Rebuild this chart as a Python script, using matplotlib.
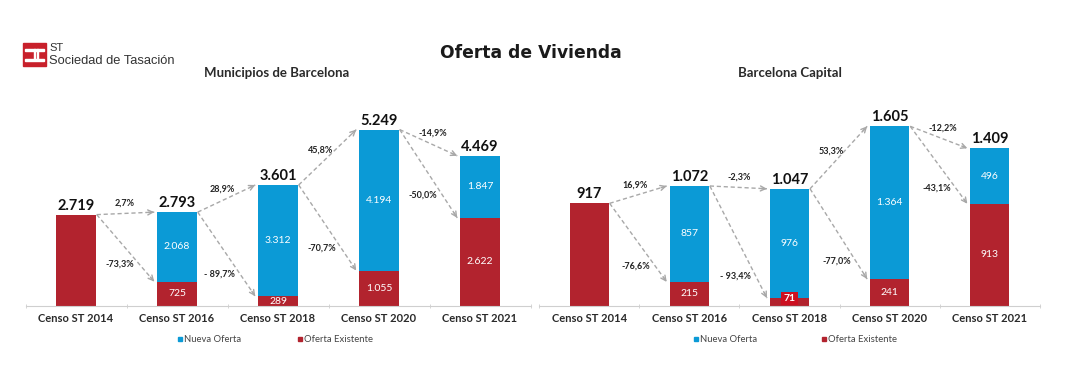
import numpy as np
import matplotlib
matplotlib.use("Agg")
import matplotlib.pyplot as plt
from matplotlib.patches import Rectangle

# ── Datos ────────────────────────────────────────────────────────────────
categorias = ["Censo ST 2014", "Censo ST 2016", "Censo ST 2018",
              "Censo ST 2020", "Censo ST 2021"]

mun_nueva = [0, 2068, 3312, 4194, 1847]
mun_existente = [2719, 725, 289, 1055, 2622]
mun_pct_total = ["2,7%", "28,9%", "45,8%", "-14,9%"]
mun_pct_exist = ["-73,3%", "- 89,7%", "-70,7%", "-50,0%"]

cap_nueva = [0, 857, 976, 1364, 496]
cap_existente = [917, 215, 71, 241, 913]
cap_pct_total = ["16,9%", "-2,3%", "53,3%", "-12,2%"]
cap_pct_exist = ["-76,6%", "- 93,4%", "-77,0%", "-43,1%"]

AZUL = "#0b9ad6"
ROJO = "#b2232e"
ROJO_CAJA = "#cc1020"
GRIS = "#a8a8a8"
TEXTO = "#222222"
W, H = 1077, 392
FONT = ["Lato", "DejaVu Sans"]


def miles(v):
    return f"{v:,}".replace(",", ".")


def fpos(x, y):
    # pixel (desde arriba-izquierda) -> fraccion de figura
    return x / W, 1 - y / H


def flecha(ax, p0, p1, etiqueta, modo, t=0.75):
    ax.plot([p0[0], p1[0]], [p0[1], p1[1]], color=GRIS, lw=1.0,
            ls=(0, (3, 2)), zorder=2)
    d0 = ax.transData.transform(p0)
    d1 = ax.transData.transform(p1)
    v = d1 - d0
    u = v / np.hypot(*v)
    back = ax.transData.inverted().transform(d1 - u * 6)
    ax.annotate("", xy=p1, xytext=back,
                arrowprops=dict(arrowstyle="->", color=GRIS, lw=1.0,
                                mutation_scale=9, shrinkA=0, shrinkB=0))
    if modo == "total":
        n = np.array([-u[1], u[0]])
        if n[1] < 0:
            n = -n
        pos = d0 + v * 0.5 + n * 10
        xy = ax.transData.inverted().transform(pos)
        ax.text(xy[0], xy[1], etiqueta, ha="center", va="center",
                fontsize=6.5, color=TEXTO, family=FONT, fontweight="bold")
    else:
        pos = d0 + v * t + np.array([-5, 0])
        xy = ax.transData.inverted().transform(pos)
        ax.text(xy[0], xy[1], etiqueta, ha="right", va="center",
                fontsize=6.5, color=TEXTO, family=FONT, fontweight="bold")


def panel(ax, nueva, existente, pct_total, pct_exist, ymax, caja=None, t=0.75):
    x = np.arange(len(categorias))
    w = 0.39
    nueva = np.array(nueva)
    existente = np.array(existente)
    total = nueva + existente
    ax.set_xlim(-0.5, len(categorias) - 0.5)
    ax.set_ylim(0, ymax)
    ax.bar(x, existente, w, color=ROJO, zorder=3)
    ax.bar(x, nueva, w, bottom=existente, color=AZUL, zorder=3)

    for i in range(len(x)):
        ax.annotate(miles(total[i]), (x[i], total[i]), xytext=(0, 1.5),
                    textcoords="offset points", ha="center", va="bottom",
                    fontsize=10.5, fontweight="bold", color="#111111",
                    family=FONT, zorder=5)
        if nueva[i] > 0:
            ax.text(x[i], existente[i] + nueva[i] / 2, miles(nueva[i]),
                    ha="center", va="center", fontsize=7.5, color="white",
                    family=FONT, zorder=5)
            kw = {}
            yy = existente[i] / 2
            if caja == i:
                kw["bbox"] = dict(boxstyle="square,pad=0.2", fc=ROJO_CAJA,
                                  ec="none")
                yy = existente[i] * 0.95
            ax.text(x[i], yy, miles(existente[i]), ha="center", va="center",
                    fontsize=7.5, color="white", family=FONT, zorder=5,
                    fontweight="bold" if caja == i else "normal", **kw)

    gap = 0.03
    for i in range(len(x) - 1):
        p0 = (x[i] + w / 2 + 0.01, total[i])
        p1 = (x[i + 1] - w / 2 - gap, total[i + 1])
        flecha(ax, p0, p1, pct_total[i], "total")
        p2 = (x[i + 1] - w / 2 - gap, existente[i + 1])
        flecha(ax, p0, p2, pct_exist[i], "exist", t=t)

    for s in ["top", "right", "left"]:
        ax.spines[s].set_visible(False)
    ax.spines["bottom"].set_color("#cfcfcf")
    ax.spines["bottom"].set_zorder(4)
    ax.set_yticks([])
    ax.set_xticks(x)
    ax.set_xticklabels(categorias, fontsize=8, fontweight="bold",
                       color="#2a2a2a", family=FONT)
    ax.tick_params(axis="x", length=0, pad=5)
    ax.set_xticks(np.arange(-0.5, len(categorias)), minor=True)
    ax.tick_params(axis="x", which="minor", length=3, color="#cfcfcf",
                   direction="inout")


def leyenda(fig, x0, x1):
    for xm, lab, col in [(x0, "Nueva Oferta", AZUL), (x1, "Oferta Existente", ROJO)]:
        fx, fy = fpos(xm, 341)
        fig.patches.append(Rectangle((fx, fy), 4 / W, 4 / H, color=col,
                                     transform=fig.transFigure, figure=fig))
        fx2, fy2 = fpos(xm + 6, 339)
        fig.text(fx2, fy2, lab, fontsize=6.8, color="#444444", family=FONT,
                 va="center", ha="left")


def main():
    fig = plt.figure(figsize=(W / 100, H / 100), dpi=100)
    fig.patch.set_facecolor("white")

    ax1 = fig.add_axes([25.5 / W, 86 / H, 505 / W, 206 / H])
    ax2 = fig.add_axes([539 / W, 86 / H, 501 / W, 206 / H])

    panel(ax1, mun_nueva, mun_existente, mun_pct_total, mun_pct_exist, 6130,
          t=0.74)
    panel(ax2, cap_nueva, cap_existente, cap_pct_total, cap_pct_exist, 1840,
          caja=2, t=0.8)

    # Títulos
    fig.text(*fpos(531, 53), "Oferta de Vivienda", ha="center", va="center",
             fontsize=12.3, fontweight="bold", color="#1a1a1a",
             family="DejaVu Sans")
    fig.text(*fpos(277, 73), "Municipios de Barcelona", ha="center",
             va="center", fontsize=9.5, fontweight="bold", color="#2a2a2a",
             family=FONT)
    fig.text(*fpos(790, 73), "Barcelona Capital", ha="center", va="center",
             fontsize=9.5, fontweight="bold", color="#2a2a2a", family=FONT)

    # Logo
    lx, ly = fpos(23, 66)
    fig.patches.append(Rectangle((lx, ly), 23 / W, 23 / H, color="#c8202b",
                                 transform=fig.transFigure, figure=fig))
    for (a, b, c, d) in [(25, 49, 19, 1.6), (25, 59, 19, 1.6),
                         (33.5, 49, 1.6, 11), (36.5, 49, 1.6, 11)]:
        rx, ry = fpos(a, b + d)
        fig.patches.append(Rectangle((rx, ry), c / W, d / H, color="white",
                                     transform=fig.transFigure, figure=fig))
    fig.text(*fpos(49, 48), "ST", fontsize=8, color="#333333",
             family="Liberation Sans", va="center", ha="left")
    fig.text(*fpos(49, 61), "Sociedad de Tasación", fontsize=9.3,
             color="#333333", family="Liberation Sans", va="center", ha="left")

    leyenda(fig, 178, 298)
    leyenda(fig, 694, 822)

    fig.savefig("out.png", dpi=100, facecolor="white")
    plt.close(fig)


if __name__ == "__main__":
    main()
